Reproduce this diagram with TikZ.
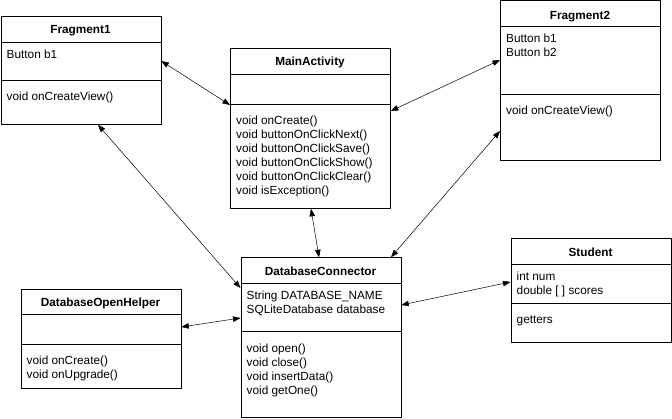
\documentclass[tikz,border=0pt]{standalone}
\usepackage{fontspec}
\setmainfont{Liberation Sans}
\usetikzlibrary{arrows.meta}
\tikzset{
  cls/.style={draw, line width=0.8pt, inner sep=0pt, anchor=north west, minimum width=160pt},
  divider/.style={line width=0.8pt},
  ttl/.style={font=\fontsize{11.8}{14}\selectfont\bfseries, anchor=base, inner sep=0pt},
  txt/.style={font=\fontsize{11.8}{14}\selectfont, anchor=base west, inner sep=0pt},
  link/.style={line width=0.5pt, {Triangle[length=7.5pt,width=5.5pt]}-{Triangle[length=7.5pt,width=5.5pt]}}
}
\begin{document}
\begin{tikzpicture}[x=1pt,y=-1pt]
\useasboundingbox[fill=white] (0,0) rectangle (672,419);

% Fragment1
\node[cls, minimum height=108pt] (frag1) at (0.5,16) {};
\draw[divider] (frag1.west |- 0,42) -- (frag1.east |- 0,42);
\draw[divider] (frag1.west |- 0,80) -- (frag1.east |- 0,80);
\node[ttl] (frag1-t) at (80.5,34) {Fragment1};
\node[txt] (frag1-a1) at (6.5,58.5) {Button b1};
\node[txt] (frag1-m1) at (6.5,100.5) {void onCreateView()};

% MainActivity
\node[cls, minimum height=160pt] (main) at (230,48) {};
\draw[divider] (main.west |- 0,74) -- (main.east |- 0,74);
\draw[divider] (main.west |- 0,104.3) -- (main.east |- 0,104.3);
\node[ttl] (main-t) at (310,66) {MainActivity};
\foreach \t [count=\i from 0] in {void onCreate(), void buttonOnClickNext(), void buttonOnClickSave(), void buttonOnClickShow(), void buttonOnClickClear(), void isException()}
  \node[txt] (main-m\i) at (236,124.8+14*\i) {\t};

% Fragment2
\node[cls, minimum height=160pt] (frag2) at (500,0.5) {};
\draw[divider] (frag2.west |- 0,26.3) -- (frag2.east |- 0,26.3);
\draw[divider] (frag2.west |- 0,94.3) -- (frag2.east |- 0,94.3);
\node[ttl] (frag2-t) at (580,19.5) {Fragment2};
\node[txt] (frag2-a1) at (506,42.8) {Button b1};
\node[txt] (frag2-a2) at (506,56.8) {Button b2};
\node[txt] (frag2-m1) at (506,114.8) {void onCreateView()};

% DatabaseOpenHelper
\node[cls, minimum height=99.5pt] (helper) at (20.5,288.7) {};
\draw[divider] (helper.west |- 0,314.3) -- (helper.east |- 0,314.3);
\draw[divider] (helper.west |- 0,344.3) -- (helper.east |- 0,344.3);
\node[ttl] (helper-t) at (100.5,306.7) {DatabaseOpenHelper};
\node[txt] (helper-m1) at (26.5,364.8) {void onCreate()};
\node[txt] (helper-m2) at (26.5,378.8) {void onUpgrade()};

% DatabaseConnector
\node[cls, minimum height=160pt] (dbc) at (240.5,257.3) {};
\draw[divider] (dbc.west |- 0,283.3) -- (dbc.east |- 0,283.3);
\draw[divider] (dbc.west |- 0,331.7) -- (dbc.east |- 0,331.7);
\node[ttl] (dbc-t) at (320.5,275.3) {DatabaseConnector};
\node[txt] (dbc-a1) at (246.5,299.8) {String DATABASE\_NAME};
\node[txt] (dbc-a2) at (246.5,313.8) {SQLiteDatabase database};
\foreach \t [count=\i from 0] in {void open(), void close(), void insertData(), void getOne()}
  \node[txt] (dbc-m\i) at (246.5,352.2+14*\i) {\t};

% Student
\node[cls, minimum height=104pt] (student) at (510.5,238.3) {};
\draw[divider] (student.west |- 0,264.3) -- (student.east |- 0,264.3);
\draw[divider] (student.west |- 0,303) -- (student.east |- 0,303);
\node[ttl] (student-t) at (590.5,256.3) {Student};
\node[txt] (student-a1) at (516.5,280.8) {int num};
\node[txt] (student-a2) at (516.5,294.8) {double [ ] scores};
\node[txt] (student-m1) at (516.5,323.5) {getters};

% Connectors
\draw[link] (frag1.east |- 0,61) -- (main.west |- 0,105);
\draw[link] (main.east |- 0,111) -- (frag2.west |- 0,60);
\draw[link] (frag1.south -| 98,0) -- (dbc.west |- 0,288);
\draw[link] (main.south -| 311,0) -- (dbc.north -| 319,0);
\draw[link] (frag2.west |- 0,131) -- (dbc.north -| 391,0);
\draw[link] (helper.east |- 0,327) -- (dbc.west |- 0,318);
\draw[link] (dbc.east |- 0,305) -- (student.west |- 0,282);
\end{tikzpicture}
\end{document}
